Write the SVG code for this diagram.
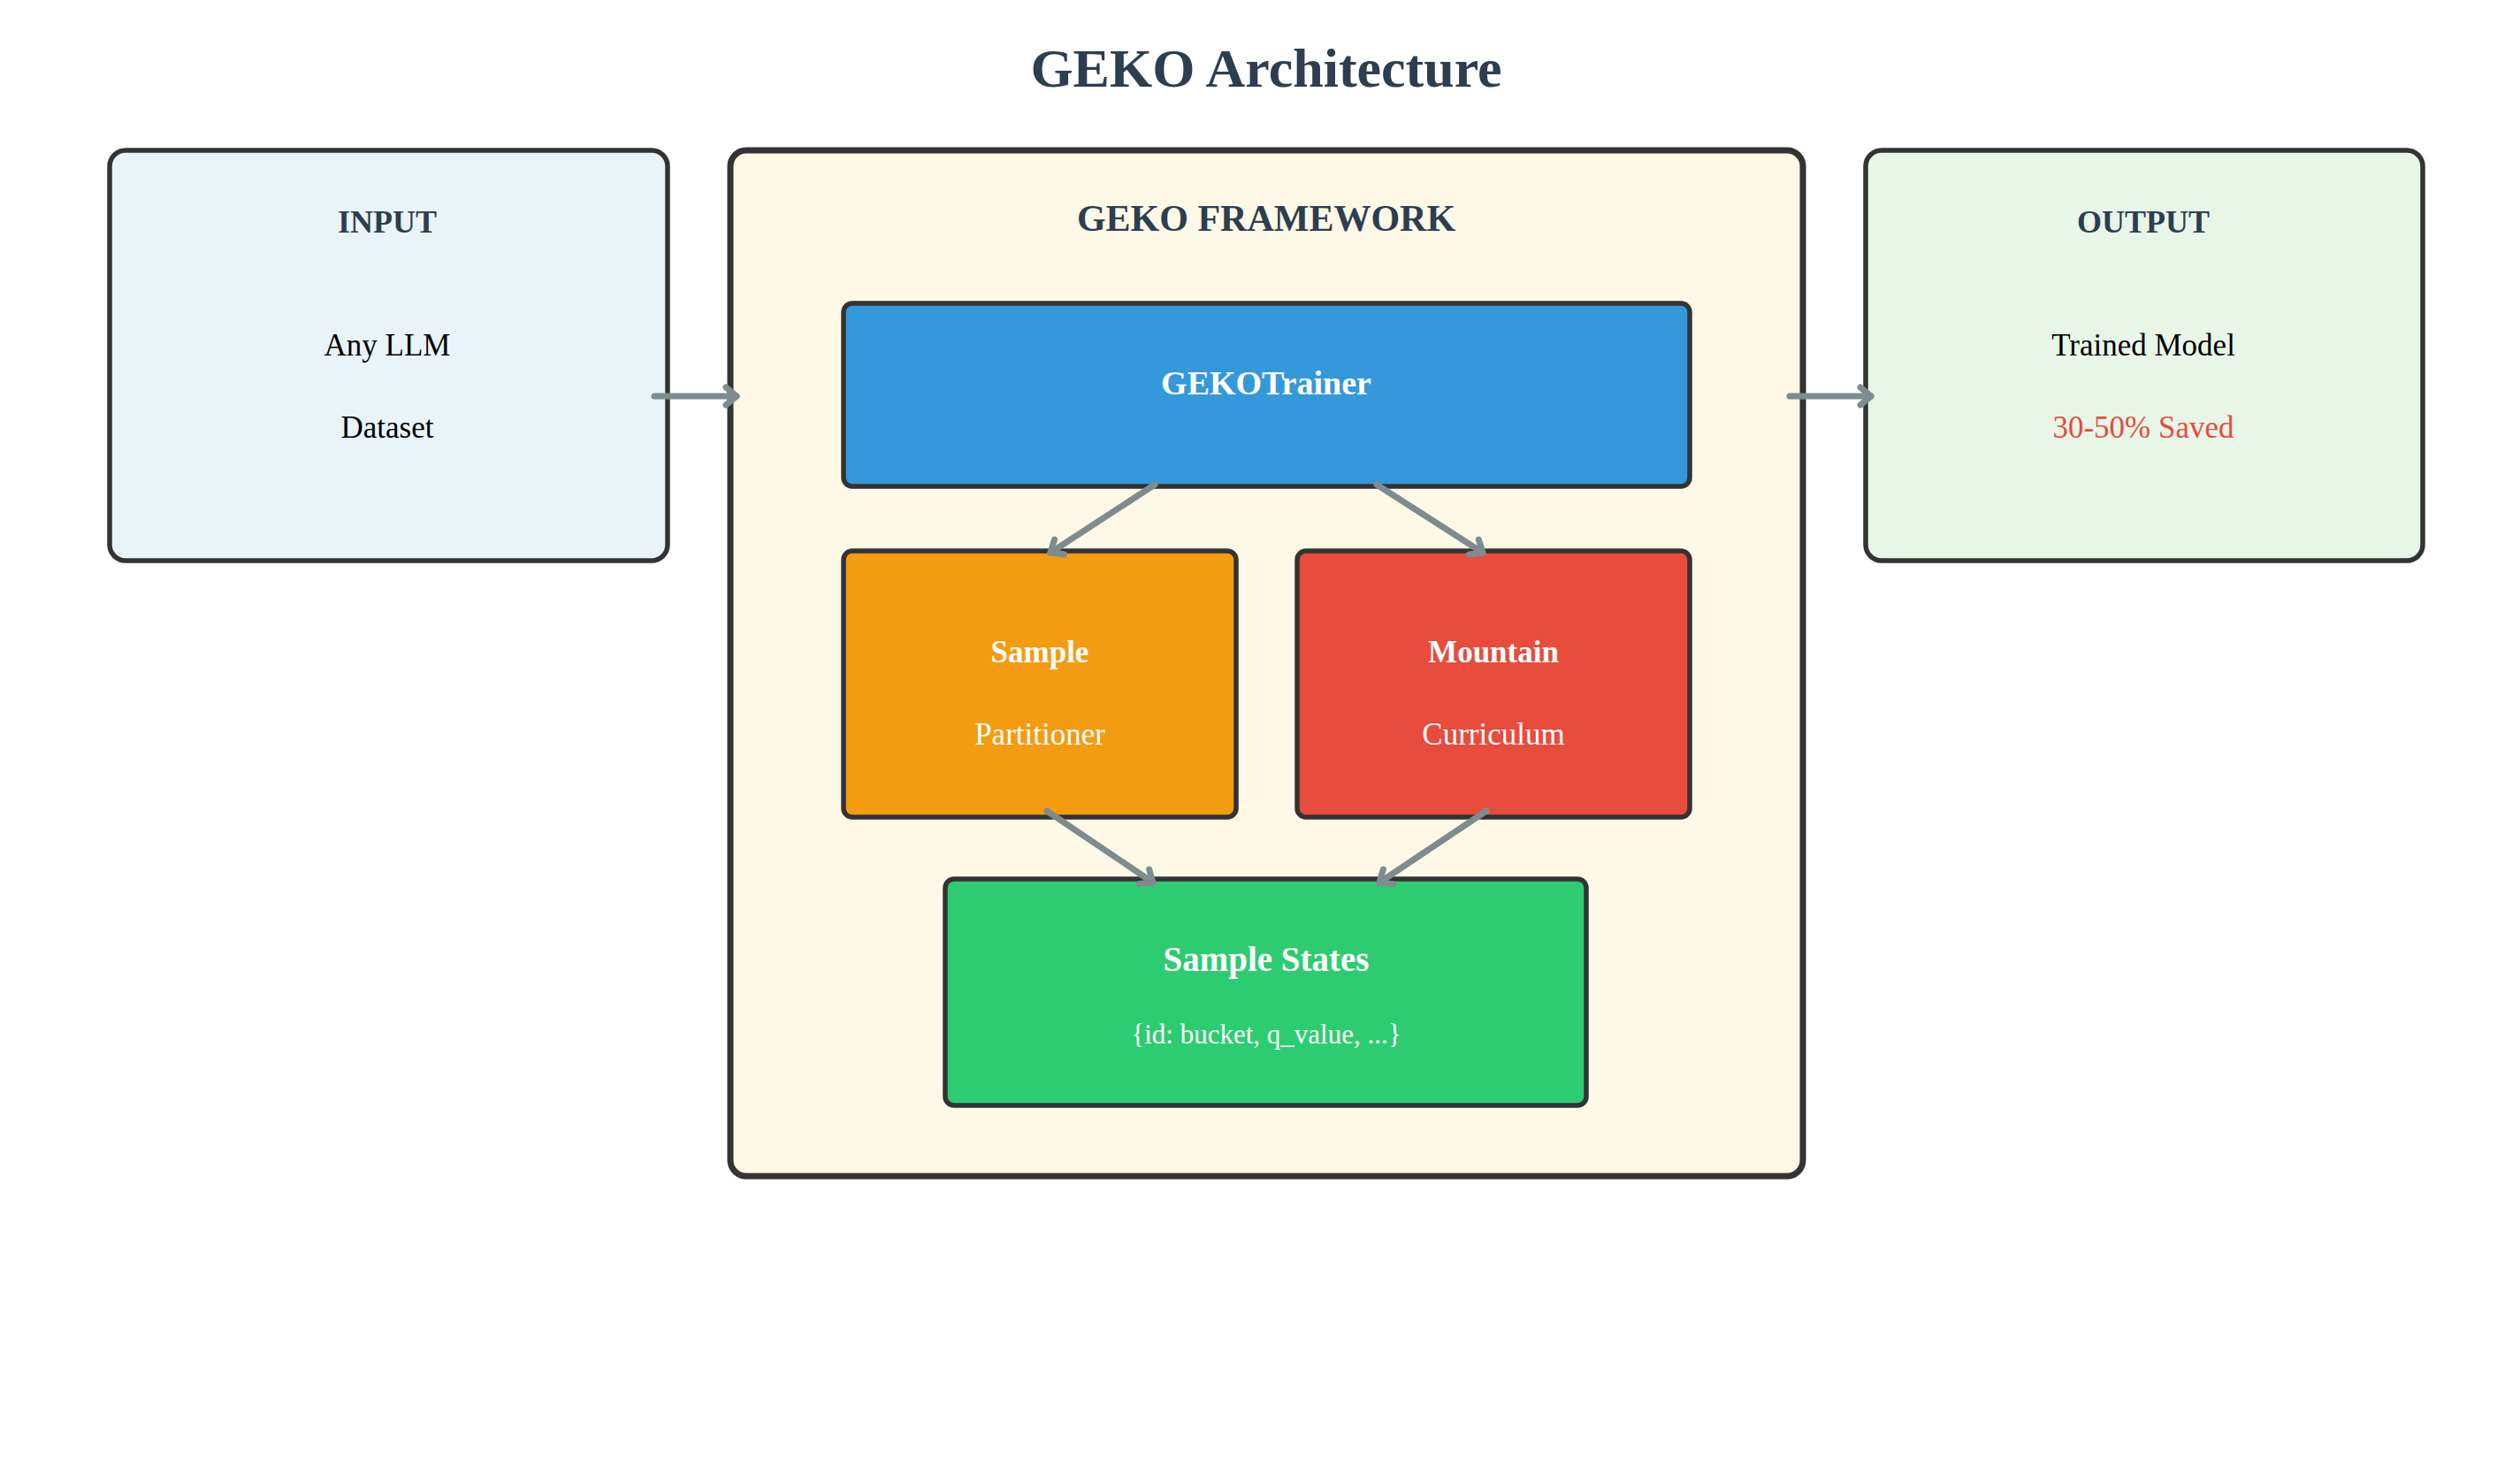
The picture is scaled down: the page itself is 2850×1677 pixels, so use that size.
<svg xmlns="http://www.w3.org/2000/svg" width="2850" height="1677" viewBox="0 0 2850 1677">
<style>
.box{stroke:#333;stroke-width:5.5}
.t{font-family:"Liberation Serif",serif;text-anchor:middle}
.b{font-weight:bold}
.conn{stroke:#7f8c8d;stroke-width:7;fill:none;stroke-linecap:round;marker-end:url(#ah)}
</style>
<defs>
<marker id="ah" markerUnits="userSpaceOnUse" markerWidth="30" markerHeight="30" refX="22" refY="15" orient="auto">
<polyline points="10,5 22,15 10,25" fill="none" stroke="#7f8c8d" stroke-width="7" stroke-linecap="round" stroke-linejoin="round"/>
</marker>
</defs>
<rect width="2850" height="1677" fill="#fff"/>
<text class="t b" x="1432" y="98" font-size="62" fill="#2c3e50">GEKO Architecture</text>
<g id="input">
<rect class="box" x="124" y="170" width="631" height="464" rx="18" fill="#e8f4f8"/>
<text class="t b" x="438" y="263" font-size="36" fill="#2c3e50">INPUT</text>
<text class="t" x="438" y="402" font-size="35" fill="#000">Any LLM</text>
<text class="t" x="438" y="495" font-size="35" fill="#000">Dataset</text>
</g>
<g id="framework">
<rect x="826" y="170" width="1213" height="1160" rx="18" fill="#fef8e7" stroke="#333" stroke-width="7"/>
<text class="t b" x="1432" y="261" font-size="42" fill="#2c3e50">GEKO FRAMEWORK</text>
</g>
<g id="trainer">
<rect class="box" x="954" y="343" width="957" height="207" rx="10" fill="#3498db"/>
<text class="t b" x="1432" y="446" font-size="38" fill="#fff">GEKOTrainer</text>
</g>
<g id="partitioner">
<rect class="box" x="954" y="623" width="444" height="301" rx="10" fill="#f39c12"/>
<text class="t b" x="1176" y="749" font-size="35" fill="#fff">Sample</text>
<text class="t" x="1176" y="842" font-size="35" fill="#fff">Partitioner</text>
</g>
<g id="curriculum">
<rect class="box" x="1467" y="623" width="444" height="301" rx="10" fill="#e74c3c"/>
<text class="t b" x="1689" y="749" font-size="35" fill="#fff">Mountain</text>
<text class="t" x="1689" y="842" font-size="35" fill="#fff">Curriculum</text>
</g>
<g id="states">
<rect class="box" x="1069" y="994" width="725" height="256" rx="10" fill="#2ecc71"/>
<text class="t b" x="1432" y="1098" font-size="39" fill="#fff">Sample States</text>
<text class="t" x="1432" y="1180" font-size="31" fill="#fff">{id: bucket, q_value, ...}</text>
</g>
<g id="output">
<rect class="box" x="2110" y="170" width="630" height="464" rx="18" fill="#e8f6e8"/>
<text class="t b" x="2424" y="263" font-size="36" fill="#2c3e50">OUTPUT</text>
<text class="t" x="2424" y="402" font-size="35" fill="#000">Trained Model</text>
<text class="t" x="2424" y="495" font-size="35" fill="#e74c3c">30-50% Saved</text>
</g>
<g id="connectors">
<line class="conn" x1="740" y1="448" x2="833" y2="448"/>
<line class="conn" x1="2024" y1="448" x2="2116" y2="448"/>
<line class="conn" x1="1306" y1="548" x2="1188" y2="625"/>
<line class="conn" x1="1557" y1="548" x2="1677" y2="625"/>
<line class="conn" x1="1184" y1="917" x2="1304" y2="998"/>
<line class="conn" x1="1681" y1="917" x2="1560" y2="998"/>
</g>
</svg>
